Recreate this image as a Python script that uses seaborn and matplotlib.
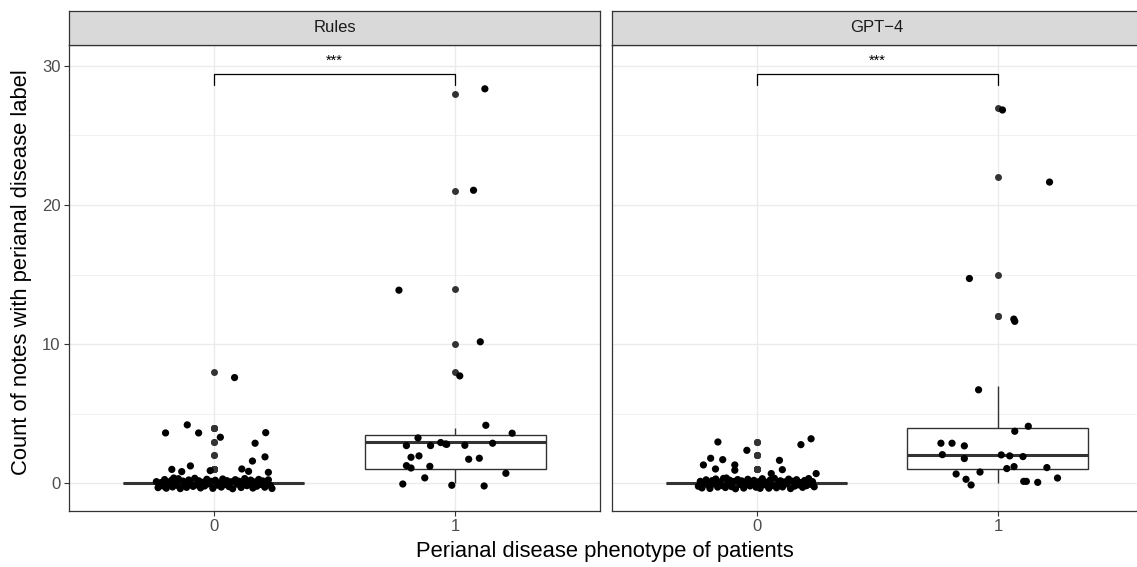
import numpy as np
import pandas as pd
import matplotlib
matplotlib.use("Agg")
import matplotlib.pyplot as plt
from matplotlib.ticker import FixedLocator
import seaborn as sns

sns.set_style("white")
plt.rcParams["font.family"] = ["Liberation Sans", "DejaVu Sans"]

# ---------------- data ----------------
panels = ["Rules", "GPT\u22124"]
groups = ["0", "1"]

# Rules, phenotype 0
rules0_counts = [8, 4, 4, 4, 3, 4, 3, 2, 2, 1, 1, 1, 1, 1, 1, 1] + [0] * 60
rules0_dx = [0.086, -0.2, -0.11, -0.063, 0.027, 0.215, 0.171, 0.212, 0.16, -0.097,
             -0.174, -0.133, -0.015, 0.116, 0.144, 0.226,
             -0.238, -0.231, -0.219, -0.212, -0.204, -0.197, -0.188, -0.176, -0.171, -0.163,
             -0.152, -0.147, -0.139, -0.128, -0.121, -0.113, -0.104, -0.097, -0.086, -0.079,
             -0.071, -0.062, -0.055, -0.046, -0.038, -0.029, -0.021, -0.012, -0.004, 0.006,
             0.013, 0.022, 0.031, 0.037, 0.046, 0.054, 0.063, 0.071, 0.078, 0.089,
             0.096, 0.104, 0.113, 0.121, 0.128, 0.137, 0.146, 0.153, 0.162, 0.171,
             0.178, 0.186, 0.195, 0.203, 0.211, 0.219, 0.226, 0.234, 0.241, -0.166]
rules0_dy = [-0.4, -0.38, 0.2, -0.38, 0.31, -0.36, -0.12, -0.1, -0.4, 0.25,
             0.0, -0.16, -0.09, 0.03, -0.14, -0.21,
             0.12, -0.31, 0.05, -0.18, 0.27, -0.35, -0.02, 0.21, -0.26, 0.09,
             -0.14, 0.33, -0.38, 0.16, -0.07, -0.29, 0.24, 0.01, -0.22, 0.36,
             -0.11, 0.18, -0.33, 0.07, -0.19, 0.29, -0.04, 0.14, -0.36, 0.22,
             -0.13, 0.03, -0.27, 0.31, -0.09, 0.19, -0.24, 0.11, -0.39, 0.26,
             -0.06, 0.15, -0.3, 0.04, 0.34, -0.17, -0.01, 0.23, -0.34, 0.1,
             -0.21, 0.28, -0.08, 0.17, -0.28, 0.02, 0.25, -0.15, -0.37, 0.38]

# Rules, phenotype 1
rules1_counts = [28, 21, 14, 10, 8, 4, 4, 3, 3, 3, 3, 3, 3, 3, 3, 2, 2, 2, 2,
                 1, 1, 1, 1, 0, 0, 0, 0]
rules1_dx = [0.123, 0.076, -0.233, 0.104, 0.019, 0.127, 0.236, -0.154, -0.202, -0.102,
             -0.06, -0.04, 0.04, 0.155, -0.035, -0.183, -0.15, 0.056, 0.1,
             -0.202, -0.183, -0.105, 0.21, -0.126, -0.217, -0.014, 0.12]
rules1_dy = [0.35, 0.06, -0.12, 0.17, -0.28, 0.17, -0.4, 0.26, -0.29, -0.29,
             -0.07, -0.17, -0.27, -0.12, -0.2, -0.13, -0.03, -0.27, -0.2,
             0.27, 0.1, 0.22, -0.28, 0.39, -0.05, -0.14, -0.19]

# GPT-4, phenotype 0
gpt0_counts = [3, 3, 3, 2, 2, 2, 2, 1, 1, 1, 1, 1, 1, 1] + [0] * 62
gpt0_dx = [-0.16, 0.226, 0.184, -0.04, -0.19, -0.14, 0.095, -0.22, -0.17, -0.09,
           -0.09, 0.107, 0.061, 0.247,
           -0.241, -0.233, -0.226, -0.217, -0.209, -0.201, -0.193, -0.184, -0.178, -0.169,
           -0.161, -0.154, -0.144, -0.137, -0.129, -0.118, -0.111, -0.103, -0.094, -0.087,
           -0.078, -0.069, -0.061, -0.053, -0.044, -0.036, -0.027, -0.019, -0.011, -0.002,
           0.008, 0.015, 0.024, 0.032, 0.041, 0.049, 0.057, 0.066, 0.074, 0.083,
           0.091, 0.099, 0.108, 0.116, 0.124, 0.133, 0.141, 0.149, 0.158, 0.166,
           0.174, 0.183, 0.191, 0.199, 0.207, 0.216, 0.224, 0.232, 0.239, -0.125,
           0.051, 0.171]
gpt0_dy = [-0.03, 0.2, -0.22, 0.37, -0.2, -0.3, -0.35, 0.32, 0.03, 0.32,
           -0.06, -0.02, -0.3, -0.3,
           -0.21, 0.14, -0.33, 0.06, 0.25, -0.12, -0.37, 0.19, -0.05, 0.31,
           -0.27, 0.09, -0.16, 0.35, -0.3, 0.02, 0.22, -0.24, 0.13, -0.39,
           0.27, -0.08, 0.17, -0.34, 0.04, 0.29, -0.19, -0.01, 0.21, -0.28,
           0.11, -0.36, 0.33, -0.1, 0.07, -0.23, 0.24, -0.15, 0.36, -0.32,
           0.01, 0.18, -0.26, 0.1, -0.04, 0.3, -0.38, 0.15, -0.2, 0.26,
           -0.11, 0.05, -0.29, 0.2, -0.17, 0.34, -0.07, 0.12, -0.25, 0.38,
           -0.35, 0.08]

# GPT-4, phenotype 1
gpt1_counts = [27, 22, 15, 12, 12, 7, 4, 4, 3, 3, 3, 2, 2, 2, 2, 2,
               1, 1, 1, 1, 1, 0, 0, 0, 0, 0, 0]
gpt1_dx = [0.019, 0.214, -0.118, 0.066, 0.07, -0.08, 0.126, 0.07, -0.236, -0.19,
           -0.139, -0.23, -0.139, 0.014, 0.049, 0.104, 0.067, 0.037, 0.203, -0.074,
           -0.173, 0.247, -0.132, -0.111, 0.107, 0.118, 0.165]
gpt1_dy = [-0.17, -0.35, -0.28, -0.2, -0.36, -0.28, 0.1, -0.26, -0.12, -0.12,
           -0.31, 0.06, -0.22, 0.04, -0.03, -0.08, 0.2, 0.06, 0.13, -0.19,
           -0.33, 0.38, 0.29, -0.12, 0.14, 0.14, 0.07]

sig_labels = ["***", "***"]

# ---------------- build table ----------------
rows = []
for panel, grp, c, dx, dy in [
    (panels[0], groups[0], rules0_counts, rules0_dx, rules0_dy),
    (panels[0], groups[1], rules1_counts, rules1_dx, rules1_dy),
    (panels[1], groups[0], gpt0_counts, gpt0_dx, gpt0_dy),
    (panels[1], groups[1], gpt1_counts, gpt1_dx, gpt1_dy),
]:
    for ci, dxi, dyi in zip(c, dx, dy):
        rows.append(dict(panel=panel, group=grp, count=ci, dx=dxi, dy=dyi))
df = pd.DataFrame(rows)
df["xpos"] = df["group"].map({g: i for i, g in enumerate(groups)}) + df["dx"]
df["ypos"] = df["count"] + df["dy"]

# ---------------- figure ----------------
W, H = 1137, 567
fig = plt.figure(figsize=(W / 100, H / 100), dpi=100)

def fx(px):
    return px / W

def fy(py):
    return 1 - py / H

panel_left = [69, 611.7]
panel_w = 531
top, bottom = 45, 511
strip_top = 11

GRAY20 = "#333333"
GRAY30 = "#4D4D4D"

for i, panel in enumerate(panels):
    ax = fig.add_axes([fx(panel_left[i]), fy(bottom), panel_w / W, (bottom - top) / H])
    sub = df[df["panel"] == panel]
    sns.boxplot(data=sub, x="group", y="count", order=groups, ax=ax, width=0.75,
                color="white", linecolor=GRAY20, linewidth=1.0, showcaps=False,
                flierprops=dict(marker="o", markerfacecolor=GRAY20, markeredgecolor=GRAY20,
                                markersize=5.0, markeredgewidth=0),
                medianprops=dict(linewidth=2.2, color=GRAY20),
                zorder=2)
    sns.scatterplot(data=sub, x="xpos", y="ypos", ax=ax, color="black", s=27,
                    edgecolor="none", linewidth=0, zorder=3, legend=False)

    ax.set_xlim(-0.6, 1.6)
    ax.set_ylim(-1.99, 31.5)
    ax.set_xlabel("")
    ax.set_ylabel("")
    ax.xaxis.set_major_locator(FixedLocator([0, 1]))
    ax.set_xticklabels(groups)
    ax.yaxis.set_major_locator(FixedLocator([0, 10, 20, 30]))
    ax.yaxis.set_minor_locator(FixedLocator([5, 15, 25]))
    ax.set_axisbelow(True)
    ax.grid(True, which="major", axis="both", color="#EBEBEB", linewidth=1.0, zorder=0)
    ax.grid(True, which="minor", axis="y", color="#EBEBEB", linewidth=0.5, zorder=0)
    for name, sp in ax.spines.items():
        sp.set_visible(not (i == 1 and name == "right"))
        sp.set_color(GRAY20)
        sp.set_linewidth(0.9)
    ax.tick_params(axis="both", which="major", length=3.5, width=0.8, color=GRAY20,
                   labelsize=12, labelcolor=GRAY30, pad=2.5, bottom=True, left=(i == 0))
    ax.tick_params(axis="y", which="minor", length=0)
    if i == 0:
        ax.set_yticklabels(["0", "10", "20", "30"])
    else:
        ax.set_yticklabels([])

    # significance bracket
    by, tip = 29.4, 0.8
    ax.plot([0, 0, 1, 1], [by - tip, by, by, by - tip], color="black", linewidth=0.9,
            zorder=4, solid_joinstyle="miter")
    ax.text(0.5, by + 0.45, sig_labels[i], ha="center", va="bottom", fontsize=10.5,
            color="black", zorder=4)

    # strip
    sax = fig.add_axes([fx(panel_left[i]), fy(top), panel_w / W, (top - strip_top) / H])
    sax.set_facecolor("#D9D9D9")
    sax.set_xticks([])
    sax.set_yticks([])
    for name, sp in sax.spines.items():
        sp.set_visible(not (i == 1 and name == "right"))
        sp.set_color(GRAY20)
        sp.set_linewidth(0.9)
    sax.text(0.5, 0.5, panel, ha="center", va="center", fontsize=12, color="#1A1A1A",
             transform=sax.transAxes)

fig.text(fx(22), fy(272), "Count of notes with perianal disease label", rotation=90,
         ha="center", va="center", fontsize=15.8, color="black")
fig.text(fx(605), fy(552), "Perianal disease phenotype of patients",
         ha="center", va="center", fontsize=15.8, color="black")

fig.savefig("out.png", dpi=100)
